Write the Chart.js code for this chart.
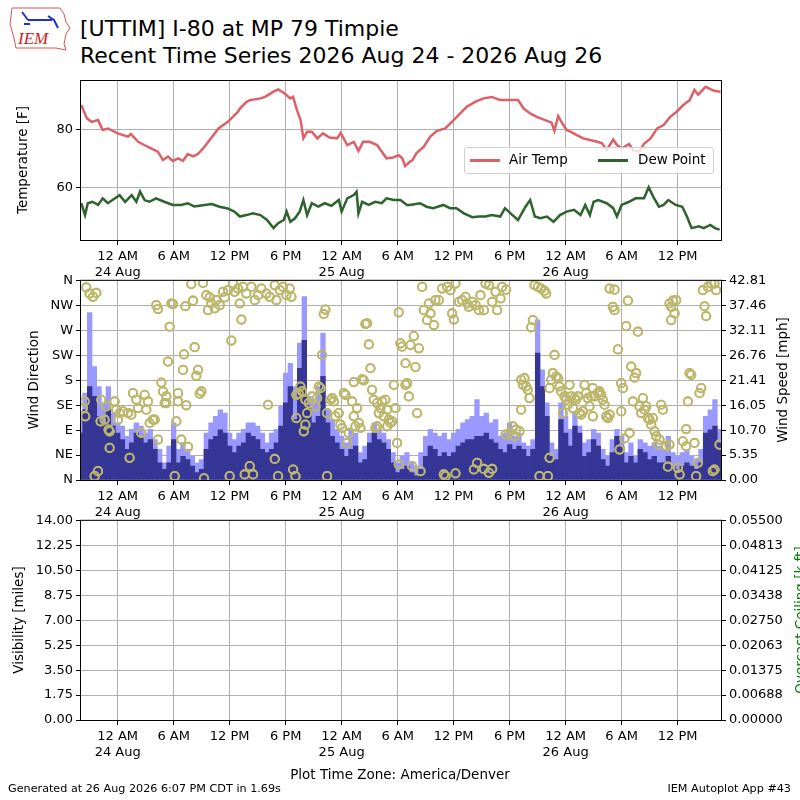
<!DOCTYPE html>
<html>
<head>
<meta charset="utf-8">
<script src="https://cdn.jsdelivr.net/npm/chart.js@4.4.1/dist/chart.umd.min.js"></script>
<style>
  body { margin: 0; width: 800px; height: 800px; overflow: hidden; background: #fff; position: relative; font-family: "DejaVu Sans", sans-serif; color: #000; }
  canvas { position: absolute; left: 0; }
  .txt { position: absolute; white-space: nowrap; }
  .ylab { position: absolute; white-space: nowrap; font-size: 13.5px; transform: translate(-50%, -50%) rotate(-90deg); }
  #legend { position: absolute; left: 464px; top: 147px; width: 248px; height: 25px; border: 1px solid #d0d0d0; border-radius: 3px; background: rgba(255,255,255,0.8); font-size: 13.5px; }
  #legend .sw { position: absolute; top: 11px; height: 3px; width: 30px; }
  #legend .it { position: absolute; top: 3px; }
</style>
</head>
<body>

<svg class="txt" style="left:8px;top:4px" width="66" height="48" viewBox="0 0 66 48">
  <path d="M4 4 L52 4 L56 10 L58 18 L62 24 L58 30 L56 40 L58 46 L48 44 L8 44 L6 34 L2 20 Z" fill="none" stroke="#e05050" stroke-width="1"/>
  <path d="M14 8 L20 16 M20 16 L44 16 M40 12 L46 16 L50 24 M16 20 L22 20" stroke="#2030d0" stroke-width="2" fill="none"/>
  <text x="10" y="40" font-family="Liberation Serif, serif" font-style="italic" font-size="17" fill="#d02020">IEM</text>
</svg>
<div class="txt" style="left:80px;top:16px;font-size:22px;line-height:26px">[UTTIM] I-80 at MP 79 Timpie</div>
<div class="txt" style="left:80px;top:42.5px;font-size:22px;line-height:26px">Recent Time Series 2026 Aug 24 - 2026 Aug 26</div>

<canvas id="tempChart" width="800" height="230" style="top:70px"></canvas>
<canvas id="windChart" width="800" height="270" style="top:270px"></canvas>
<canvas id="visChart" width="800" height="270" style="top:510px"></canvas>

<div id="legend">
  <div class="sw" style="left:5px;background:#dd6066"></div><div class="it" style="left:44px">Air Temp</div>
  <div class="sw" style="left:133px;background:#2e632e"></div><div class="it" style="left:173px">Dew Point</div>
</div>

<div class="ylab" style="left:22px;top:160px">Temperature [F]</div>
<div class="ylab" style="left:33px;top:380px">Wind Direction</div>
<div class="ylab" style="left:782px;top:380px">Wind Speed [mph]</div>
<div class="ylab" style="left:18px;top:620px">Visibility [miles]</div>
<div class="ylab" style="left:800px;top:620px;color:#008000">Overcast Ceiling [k ft]</div>

<div class="txt" style="left:0;width:800px;text-align:center;top:766px;font-size:13.5px">Plot Time Zone: America/Denver</div>
<div class="txt" style="left:8px;top:782px;font-size:11.2px">Generated at 26 Aug 2026 6:07 PM CDT in 1.69s</div>
<div class="txt" style="right:9px;top:782px;font-size:11.2px">IEM Autoplot App #43</div>

<script>
// x axis is in hours after 12 AM 24 Aug (America/Denver)
const X_MIN = -3.93;
const X_MAX = 64.65;
const timeTickHours = [0, 6, 12, 18, 24, 30, 36, 42, 48, 54, 60];
const timeTickLabels = [['12 AM', '24 Aug'], '6 AM', '12 PM', '6 PM', ['12 AM', '25 Aug'], '6 AM', '12 PM', '6 PM', ['12 AM', '26 Aug'], '6 AM', '12 PM'];

// temperature panel [hour, F]
const TEMP_MIN = 41.8, TEMP_MAX = 96.7;
const tempTicks = [60, 80];
const airTemp = [
  [-3.9,88.4],[-3.3,83.8],[-2.8,82.6],[-2.1,83.2],[-1.6,79.8],[-1.05,80.3],[0.0,78.6],[1.1,77.5],[1.4,78.4],[2.2,75.7],
  [3.2,74.0],[4.3,72.3],[4.86,69.4],[5.4,70.6],[5.9,69.1],[6.5,70.0],[7.0,69.1],[7.5,71.5],[8.1,70.7],[8.6,71.5],
  [9.3,74.0],[10.0,76.9],[10.8,80.3],[11.8,82.6],[12.9,86.1],[13.1,87.2],[13.8,89.5],[14.2,90.1],[15.3,90.7],[15.8,91.2],
  [16.7,93.0],[17.2,93.8],[17.9,92.4],[18.5,90.7],[18.8,91.2],[19.2,86.7],[19.6,83.2],[19.9,76.9],[20.3,79.2],[20.8,79.2],
  [21.4,76.9],[22.0,78.6],[22.7,77.2],[23.5,76.9],[23.9,78.8],[24.6,74.6],[25.3,75.7],[25.8,72.6],[26.3,75.7],[27.0,75.7],
  [27.8,74.6],[28.8,70.0],[29.5,70.3],[30.1,71.1],[30.5,70.0],[30.8,67.3],[31.3,68.8],[31.6,69.4],[32.0,71.7],[32.8,74.0],
  [33.5,77.5],[34.2,79.5],[35.1,80.3],[36.0,83.2],[36.7,85.5],[37.4,87.8],[38.3,89.5],[39.2,90.7],[40.1,91.2],[41.0,90.1],
  [41.9,90.1],[42.9,90.1],[43.5,87.2],[44.2,85.5],[44.9,84.3],[45.8,83.2],[46.5,82.3],[46.8,79.5],[47.2,84.6],[47.6,82.3],
  [48.1,79.8],[48.5,79.2],[49.2,78.0],[49.9,76.9],[50.6,76.3],[51.4,75.7],[51.9,75.2],[52.4,72.9],[53.1,76.5],[53.5,74.6],
  [54.0,73.4],[54.8,75.0],[55.3,72.6],[55.9,72.3],[56.4,75.0],[57.1,76.9],[57.8,80.3],[58.5,81.5],[59.2,84.3],[59.9,86.1],
  [60.6,88.4],[61.3,90.1],[61.8,93.6],[62.2,92.0],[63.0,94.7],[63.9,93.3],[64.6,93.0]
];
const dewPoint = [
  [-3.9,54.5],[-3.5,50.4],[-3.2,54.5],[-2.7,55.0],[-2.1,53.9],[-1.6,56.2],[-1.05,54.5],[-0.6,55.5],[0.2,57.3],[0.8,55.0],
  [1.5,57.3],[2.0,55.0],[2.4,58.5],[2.9,55.5],[3.4,55.0],[4.1,56.2],[5.0,55.0],[5.9,53.9],[6.8,53.9],[7.5,54.5],
  [8.2,53.4],[9.3,53.9],[10.1,54.2],[10.9,53.3],[11.8,52.7],[12.5,51.6],[13.1,49.9],[13.8,50.4],[14.5,51.0],[15.3,50.4],
  [16.0,48.7],[16.7,45.9],[17.2,47.6],[17.8,48.7],[18.1,51.6],[18.5,48.1],[19.0,49.3],[19.5,51.6],[19.9,55.6],[20.3,50.4],
  [20.8,54.5],[21.5,53.3],[22.2,54.5],[22.9,53.6],[23.7,55.6],[24.0,51.6],[24.6,56.2],[25.3,57.3],[25.6,58.5],[25.8,51.0],
  [26.2,55.0],[26.9,53.9],[27.6,55.0],[28.3,54.5],[28.8,56.2],[29.6,55.6],[30.3,55.6],[31.0,53.9],[31.3,53.9],[32.4,54.5],
  [33.1,53.3],[33.8,52.8],[34.9,53.9],[35.6,52.8],[36.3,52.8],[37.1,51.0],[38.0,49.7],[38.7,49.9],[39.4,49.9],[40.1,50.4],
  [41.0,49.9],[41.5,52.8],[42.1,51.0],[42.9,48.7],[43.7,53.3],[44.2,55.6],[44.7,49.9],[45.3,49.3],[46.0,49.9],[46.7,48.1],
  [47.4,50.4],[48.1,51.6],[48.9,52.2],[49.6,50.4],[50.1,53.9],[50.6,50.4],[51.0,55.0],[51.5,55.6],[52.4,54.5],[53.1,52.8],
  [53.5,49.9],[54.0,53.9],[54.8,55.0],[55.5,56.2],[56.4,56.2],[56.9,60.0],[57.4,56.7],[58.0,53.3],[58.5,53.9],[59.0,55.6],
  [59.8,53.9],[60.5,53.3],[61.0,49.9],[61.5,45.9],[62.3,46.5],[62.8,45.9],[63.5,47.0],[64.0,45.9],[64.5,45.4]
];

// wind panel: half-hourly speed and gust [mph], starting at hour -4
const WIND_START = -4, WIND_STEP = 0.5;
const windSpeed = [
  10.1,15.1,20.1,18.0,13.7,12.3,15.1,11.6, 10.1,8.7,6.6,8.0,10.1,9.4,8.0,8.7,
  6.6,3.7,2.3,3.7,8.7,3.7,5.1,4.4, 3.0,1.6,2.3,6.6,8.7,9.4,10.8,10.1,
  7.3,5.9,7.3,8.0,10.1,9.4,8.7,6.6, 5.9,6.6,8.0,11.6,16.6,20.1,13.0,24.0,
  30.0,16.0,12.3,13.7,22.3,12.3,9.4,8.0, 6.6,5.1,6.6,7.3,3.7,4.4,8.0,10.1,
  8.7,8.0,6.6,3.7,1.6,2.3,3.0,1.6, 0.9,2.3,5.1,7.3,6.6,5.1,5.9,5.1,
  5.9,7.3,8.0,8.7,8.7,9.4,9.4,10.1, 8.7,8.0,6.6,5.9,7.6,6.6,7.3,6.6,
  5.1,6.6,27.3,20.1,13.7,5.1,4.4,13.0, 10.1,7.3,11.6,10.1,5.1,5.9,8.7,7.3,
  4.4,3.0,5.9,9.4,7.3,3.7,5.1,3.7, 6.6,5.9,4.4,5.1,3.7,3.7,5.1,3.0,
  2.3,3.0,3.7,3.0,2.3,3.7,10.1,10.8, 11.6,8.0
];
const windGust = [
  13.7,18.7,36.0,24.4,20.1,16.6,20.1,14.4, 12.3,11.6,9.4,10.9,12.3,11.6,10.1,10.9,
  8.7,6.6,3.7,7.3,12.3,6.6,8.0,6.6, 5.1,3.7,4.4,10.1,12.3,13.7,15.1,14.4,
  10.1,8.7,10.1,10.9,12.3,12.3,11.6,10.1, 8.0,10.1,10.9,15.9,23.0,25.1,20.1,29.4,
  39.4,18.0,16.6,20.1,31.6,15.1,13.0,10.9, 9.4,8.0,10.9,10.1,5.9,7.3,10.1,12.3,
  10.9,10.1,8.7,5.9,3.7,5.1,5.9,3.7, 3.0,5.9,9.4,10.9,10.1,9.4,10.1,8.7,
  10.1,10.9,12.3,13.0,13.7,17.3,13.7,14.4, 12.3,13.0,9.4,10.1,12.3,9.4,10.1,8.0,
  7.3,8.7,34.4,23.7,16.6,8.0,6.6,16.6, 13.7,10.9,14.4,11.6,8.0,8.7,10.9,10.1,
  6.6,5.1,8.7,10.9,9.4,5.9,8.0,5.1, 8.7,8.0,7.3,8.0,7.3,6.6,9.4,5.9,
  5.1,5.9,6.6,5.1,4.4,6.6,13.7,15.1, 17.3,10.9
];
// wind direction observations [hour, degrees]
const windDirection = [
  [-3.36,348],[-3.01,337],[-2.65,331],[-2.29,338],[-3.54,142],[-3.72,130],[-3.47,115],[-1.76,145],[-1.83,106],[-1.40,109],
  [-1.22,133],[-0.97,91],[-0.86,88],[-0.33,142],[-0.15,127],[0.03,109],[0.21,121],[0.57,124],[1.10,121],[1.46,118],
  [1.64,157],[2.00,145],[2.18,130],[2.89,154],[3.07,127],[3.25,142],[3.43,103],[3.78,109],[3.96,109],[2.53,85],
  [4.32,73],[1.28,40],[-0.86,58],[-2.11,16],[-2.47,7],[4.14,316],[4.32,309],[5.75,319],[5.93,318],[7.25,314],
  [8.07,324],[5.57,277],[5.39,214],[4.68,176],[4.86,160],[5.04,139],[5.21,139],[5.21,151],[6.29,106],[6.47,157],
  [6.47,142],[7.36,135],[7.11,227],[7.00,199],[8.25,240],[8.43,188],[8.61,199],[8.79,156],[8.97,160],[6.11,7],
  [6.82,73],[7.54,60],[9.25,3],[7.89,354],[9.15,356],[9.50,334],[9.68,307],[9.86,330],[10.04,319],[10.40,310],
  [10.57,325],[10.93,316],[11.29,340],[11.47,330],[11.83,343],[12.36,355],[12.54,340],[12.90,346],[13.08,319],[13.26,290],
  [13.43,349],[13.79,337],[14.33,349],[14.69,325],[15.04,334],[15.40,346],[15.94,337],[16.29,331],[16.83,352],[17.01,325],
  [17.37,343],[17.72,349],[18.08,334],[18.44,346],[18.62,331],[12.18,252],[16.11,136],[16.83,38],[17.19,7],[18.80,19],
  [19.15,112],[19.15,154],[13.61,10],[14.15,25],[14.51,10],[12.00,7],
  [19.05,7],[22.26,308],[22.08,300],[26.73,283],[26.55,282],[26.91,245],[21.90,226],[27.09,202],[25.30,177],[26.19,182],
  [26.37,180],[19.58,169],[19.40,156],[19.76,160],[20.12,145],[20.48,139],[20.83,151],[21.19,133],[21.55,169],[21.73,166],
  [21.37,148],[20.30,121],[20.12,100],[19.94,88],[22.44,121],[22.98,148],[23.16,142],[22.80,145],[23.33,115],[23.69,121],
  [23.87,100],[24.05,94],[24.23,157],[24.41,154],[24.76,85],[24.59,67],[25.12,142],[25.30,115],[25.48,97],[25.83,103],
  [26.01,94],[25.66,130],[27.26,163],[27.44,145],[27.80,139],[27.98,121],[28.16,130],[28.34,142],[28.69,145],[28.51,115],
  [28.87,127],[29.05,109],[29.23,103],[29.41,106],[29.59,172],[29.77,130],[27.62,94],[27.80,97],[28.87,97],[29.94,67],
  [30.12,28],[31.02,175],[30.84,172],[31.20,151],[32.09,121],[30.84,211],[31.91,204],[30.30,247],[30.48,241],[31.38,244],
  [31.73,260],[32.27,238],[30.12,303],[32.63,349],[32.80,307],[33.34,319],[33.16,289],[33.52,301],[33.88,280],[34.05,325],
  [34.41,325],[34.77,346],[35.31,349],[35.66,343],[35.84,301],[36.02,290],[36.20,355],[36.56,322],[36.92,325],[37.27,331],
  [37.45,319],[37.63,313],[37.99,322],[38.35,316],[38.70,307],[38.88,334],[39.24,307],[39.42,355],[39.78,352],[40.13,322],
  [40.49,340],[40.67,307],[41.03,328],[41.20,349],[31.55,25],[32.45,16],[34.95,10],[35.13,7],[36.20,12],[38.17,19],
  [38.52,31],[39.24,20],[39.78,13],[40.13,20],[41.56,82],[22.44,7],
  [41.63,344],[44.67,352],[45.02,349],[45.38,346],[45.74,342],[45.92,337],[44.49,289],[44.31,276],[46.81,226],[46.63,193],
  [46.99,187],[47.17,184],[43.24,181],[43.59,184],[43.42,172],[43.77,169],[43.95,163],[44.13,148],[43.24,127],[42.35,97],
  [42.70,91],[41.99,85],[42.52,79],[43.06,88],[46.28,166],[46.46,181],[47.35,169],[47.53,160],[48.42,172],[47.88,151],
  [48.06,145],[48.24,136],[47.71,121],[48.60,151],[48.96,148],[49.13,145],[49.31,151],[48.78,130],[49.49,121],[49.67,118],
  [49.85,124],[50.03,172],[50.21,157],[50.38,148],[50.74,151],[50.92,166],[51.10,151],[51.46,157],[51.63,160],[51.81,154],
  [51.99,145],[52.17,136],[50.56,133],[50.92,115],[52.35,115],[52.53,112],[52.71,118],[52.71,346],[53.24,344],[53.06,313],
  [53.24,307],[54.67,324],[54.49,278],[55.74,268],[53.60,236],[55.03,205],[55.56,193],[55.38,185],[53.96,175],[54.13,166],
  [55.21,142],[55.92,133],[56.28,148],[56.10,121],[56.46,127],[56.63,133],[56.81,112],[56.99,109],[57.17,100],[57.35,112],
  [57.53,88],[57.71,79],[58.06,73],[57.88,64],[53.96,124],[54.85,85],[54.31,75],[53.78,55],[58.24,136],[58.42,127],
  [59.13,319],[59.49,324],[59.85,325],[59.31,313],[59.67,301],[59.31,289],[61.28,193],[61.46,190],[62.53,166],[62.35,157],
  [61.10,142],[60.92,92],[60.56,70],[60.92,61],[61.81,67],[62.17,31],[61.99,7],[62.71,343],[62.88,314],[63.06,296],
  [63.24,349],[63.60,355],[63.95,355],[64.13,343],[64.49,64],[63.77,16],[63.95,19],[46.28,40],[45.20,7],[46.10,7],
  [58.96,24],[60.03,22],[60.21,10],[58.78,61],[59.13,64]
];
const dirTickLabels = ['N', 'NE', 'E', 'SE', 'S', 'SW', 'W', 'NW', 'N'];
const SPEED_MAX = 42.81;
const speedTickLabels = ['0.00', '5.35', '10.70', '16.05', '21.41', '26.76', '32.11', '37.46', '42.81'];

// visibility / ceiling panel: no observations in the window
const visibility = [];
const ceiling = [];
const VIS_MAX = 14;
const visTickLabels = ['0.00', '1.75', '3.50', '5.25', '7.00', '8.75', '10.50', '12.25', '14.00'];
const CEIL_MAX = 0.055;
const ceilTickLabels = ['0.00000', '0.00688', '0.01375', '0.02063', '0.02750', '0.03438', '0.04125', '0.04813', '0.05500'];

const GRID = '#b0b0b0';
Chart.defaults.font.family = '"DejaVu Sans", sans-serif';
Chart.defaults.font.size = 13;
Chart.defaults.color = '#000';
Chart.defaults.animation = false;

// black box round the plot area
const framePlugin = {
  id: 'frame',
  afterDraw(chart) {
    const { ctx, chartArea: a } = chart;
    ctx.save();
    ctx.strokeStyle = '#000';
    ctx.lineWidth = 1;
    ctx.strokeRect(a.left - 0.5, a.top - 0.5, a.right - a.left + 1, a.bottom - a.top + 1);
    ctx.restore();
  }
};

// grid goes over the bars but under the direction circles, like matplotlib
const circlesOnTop = {
  id: 'circlesOnTop',
  afterDraw(chart) {
    const a = chart.chartArea;
    const ctx = chart.ctx;
    ctx.save();
    ctx.beginPath();
    ctx.rect(a.left, a.top, a.right - a.left, a.bottom - a.top);
    ctx.clip();
    chart.getDatasetMeta(0).controller.draw();
    ctx.restore();
  }
};

function timeAxis() {
  return {
    type: 'linear', min: X_MIN, max: X_MAX, offset: false,
    grid: { color: GRID, tickColor: '#000', tickLength: 5, offset: false },
    border: { display: false },
    ticks: {
      padding: 4, maxRotation: 0, autoSkip: false,
      font: { size: 13, lineHeight: '16px' },
      callback: (v, i) => timeTickLabels[i]
    },
    afterBuildTicks: s => { s.ticks = timeTickHours.map(v => ({ value: v })); },
    afterFit: s => { s.height = 60; }
  };
}

function valueAxis(pos, max, labels, width, showGrid) {
  return {
    type: 'linear', position: pos, min: 0, max: max,
    grid: { color: GRID, tickColor: '#000', tickLength: 5, drawOnChartArea: showGrid },
    border: { display: false },
    ticks: { padding: 3, callback: (v, i) => labels[i] },
    afterBuildTicks: s => { s.ticks = labels.map((l, i) => ({ value: max * i / (labels.length - 1) })); },
    afterFit: s => { s.width = width; }
  };
}

new Chart(document.getElementById('tempChart'), {
  type: 'line',
  data: {
    datasets: [
      { label: 'Air Temp', data: airTemp.map(p => ({ x: p[0], y: p[1] })), borderColor: '#dd6066', borderWidth: 2.5, pointRadius: 0 },
      { label: 'Dew Point', data: dewPoint.map(p => ({ x: p[0], y: p[1] })), borderColor: '#2e632e', borderWidth: 2.5, pointRadius: 0 }
    ]
  },
  options: {
    responsive: false,
    layout: { padding: { top: 11, right: 79, left: 0, bottom: 0 } },
    plugins: { legend: { display: false }, tooltip: { enabled: false } },
    scales: {
      x: timeAxis(),
      y: {
        type: 'linear', min: TEMP_MIN, max: TEMP_MAX,
        grid: { color: GRID, tickColor: '#000', tickLength: 5 },
        border: { display: false },
        ticks: { padding: 3 },
        afterBuildTicks: s => { s.ticks = tempTicks.map(v => ({ value: v })); },
        afterFit: s => { s.width = 81; }
      }
    }
  },
  plugins: [framePlugin]
});

const windHours = windSpeed.map((_, i) => WIND_START + i * WIND_STEP);

new Chart(document.getElementById('windChart'), {
  type: 'bar',
  data: {
    datasets: [
      {
        type: 'scatter', label: 'Direction', yAxisID: 'ydir', clip: 0,
        data: windDirection.map(p => ({ x: p[0], y: p[1] })),
        pointRadius: 4.2, pointBorderWidth: 1.8, borderColor: '#bdb76b', backgroundColor: 'rgba(0,0,0,0)'
      },
      {
        label: 'Speed', yAxisID: 'yspd', grouped: false,
        data: windHours.map((h, i) => ({ x: h, y: windSpeed[i] })),
        backgroundColor: '#363696', barPercentage: 1, categoryPercentage: 1
      },
      {
        label: 'Gust', yAxisID: 'yspd', grouped: false,
        data: windHours.map((h, i) => ({ x: h, y: windGust[i] })),
        backgroundColor: '#9999ff', barPercentage: 1, categoryPercentage: 1
      }
    ]
  },
  options: {
    responsive: false,
    layout: { padding: { top: 10, right: 0, left: 0, bottom: 0 } },
    plugins: { legend: { display: false }, tooltip: { enabled: false } },
    scales: {
      x: Object.assign(timeAxis(), { z: 1 }),
      ydir: Object.assign(valueAxis('left', 360, dirTickLabels, 81, true), { z: 1 }),
      yspd: valueAxis('right', SPEED_MAX, speedTickLabels, 79, false)
    }
  },
  plugins: [circlesOnTop, framePlugin]
});

new Chart(document.getElementById('visChart'), {
  type: 'line',
  data: {
    datasets: [
      { label: 'Visibility', data: visibility, yAxisID: 'yvis', borderColor: '#000' },
      { label: 'Overcast Ceiling', data: ceiling, yAxisID: 'yceil', borderColor: '#008000' }
    ]
  },
  options: {
    responsive: false,
    layout: { padding: { top: 10, right: 0, left: 0, bottom: 0 } },
    plugins: { legend: { display: false }, tooltip: { enabled: false } },
    scales: {
      x: timeAxis(),
      yvis: valueAxis('left', VIS_MAX, visTickLabels, 81, true),
      yceil: valueAxis('right', CEIL_MAX, ceilTickLabels, 79, false)
    }
  },
  plugins: [framePlugin]
});
</script>
</body>
</html>
